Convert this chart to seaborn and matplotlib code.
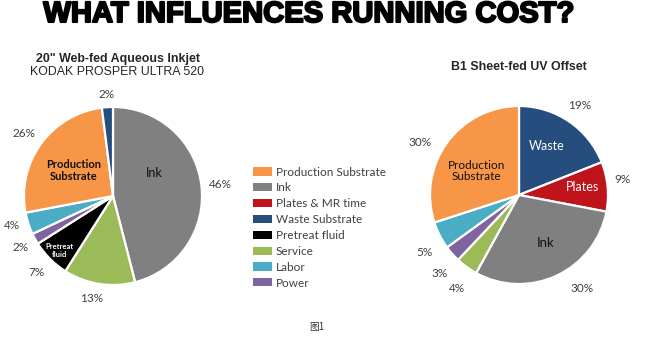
import matplotlib
matplotlib.use("Agg")
import numpy as np
import matplotlib.pyplot as plt
import matplotlib.patheffects as pe
from matplotlib.patches import Patch
import seaborn as sns

sns.set_theme(style="white")
plt.rcParams['font.family'] = ['Liberation Sans', 'DejaVu Sans']

# ---- data ----
categories = ["Production Substrate", "Ink", "Plates & MR time", "Waste Substrate",
              "Pretreat fluid", "Service", "Labor", "Power"]
colors = ["#F79646", "#808080", "#C0141C", "#254E7E", "#000000", "#9BBB59", "#4BACC6", "#8064A2"]
color_map = dict(zip(categories, colors))

# left pie (clockwise from 12 o'clock)
left_cats = ["Ink", "Service", "Pretreat fluid", "Power", "Labor", "Production Substrate", "Waste Substrate"]
left_vals = [46, 13, 7, 2, 4, 26, 2]

# right pie (clockwise from 12 o'clock)
right_cats = ["Waste Substrate", "Plates & MR time", "Ink", "Service", "Power", "Labor", "Production Substrate"]
right_vals = [19, 9, 30, 4, 3, 5, 30]

W, H = 651, 339
fig = plt.figure(figsize=(W / 100, H / 100), dpi=100)
fig.patch.set_facecolor("white")


def add_pie(cx, cy, r, cats, vals, inner, label_place):
    ax = fig.add_axes([(cx - r) / W, (H - cy - r) / H, 2 * r / W, 2 * r / H])
    ax.set_axis_off()
    wedges, _ = ax.pie(vals, colors=[color_map[c] for c in cats], startangle=90,
                       counterclock=False, radius=1,
                       wedgeprops=dict(edgecolor="white", linewidth=1.6))
    for w, v, (d, dth) in zip(wedges, vals, label_place):
        ang = np.deg2rad((w.theta1 + w.theta2) / 2 + dth)
        ax.text(d * np.cos(ang), d * np.sin(ang), f"{v}%", ha="center", va="center",
                fontsize=8.5, color="#404040", family="Lato")
    for (x, y, s, col, fs, fw) in inner:
        ax.text(x, y, s, ha="center", va="center", color=col, fontsize=fs,
                fontweight=fw, family="Lato", linespacing=1.1)
    ax.set_xlim(-1, 1)
    ax.set_ylim(-1, 1)
    ax.set_aspect("equal")
    return ax


# left pie
add_pie(113, 196, 89, left_cats, left_vals,
        [(0.46, 0.26, "Ink", "#111111", 9, "normal"),
         (-0.44, 0.29, "Production\nSubstrate", "#111111", 8, "bold"),
         (-0.6, -0.61, "Pretreat\nfluid", "white", 5.5, "bold")],
        [(1.21, -1.3), (1.17, -2.6), (1.21, 0), (1.19, 0), (1.18, -1.5), (1.22, 0.7), (1.14, 0)])

# right pie
add_pie(519, 195, 89, right_cats, right_vals,
        [(0.31, 0.55, "Waste", "white", 9, "normal"),
         (0.71, 0.09, "Plates", "white", 9, "normal"),
         (0.30, -0.54, "Ink", "#111111", 9.5, "normal"),
         (-0.48, 0.27, "Production\nSubstrate", "#111111", 8.5, "normal")],
        [(1.22, 0), (1.17, 2.9), (1.27, 8.8), (1.26, 2.3), (1.25, 3.2), (1.24, 4.2), (1.26, 8)])

# title
fig.text(309 / W, 1 - 14 / H, "WHAT INFLUENCES RUNNING COST?", ha="center", va="center",
         fontsize=21, fontweight="bold", color="black", family="Liberation Sans",
         path_effects=[pe.withStroke(linewidth=1.5, foreground="black")])

# subtitles
sub_font = ["Liberation Sans Narrow", "Liberation Sans"]
fig.text(118.5 / W, 1 - 59 / H, '20" Web-fed Aqueous Inkjet', ha="center", va="center",
         fontsize=8.9, fontweight="bold", family=sub_font)
fig.text(117.5 / W, 1 - 72 / H, "KODAK PROSPER ULTRA 520", ha="center", va="center",
         fontsize=8.9, family=sub_font)
fig.text(519 / W, 1 - 66.5 / H, "B1 Sheet-fed UV Offset", ha="center", va="center",
         fontsize=8.9, fontweight="bold", family=sub_font)

# legend
handles = [Patch(facecolor=color_map[c], edgecolor="none", label=c) for c in categories]
fig.legend(handles=handles, loc="upper left", bbox_to_anchor=(242 / W, 1 - 156 / H),
           frameon=False, handlelength=1.6, handleheight=0.68,
           handletextpad=0.34, labelspacing=0.41, labelcolor="#404040",
           prop=dict(family="Lato", size=8.5))

# caption
fig.text(317 / W, 1 - 327 / H, "图1", ha="center", va="center", fontsize=7,
         family=["Noto Sans CJK SC", "DejaVu Sans"], color="#333333")

fig.savefig("out.png", dpi=100, facecolor="white")
